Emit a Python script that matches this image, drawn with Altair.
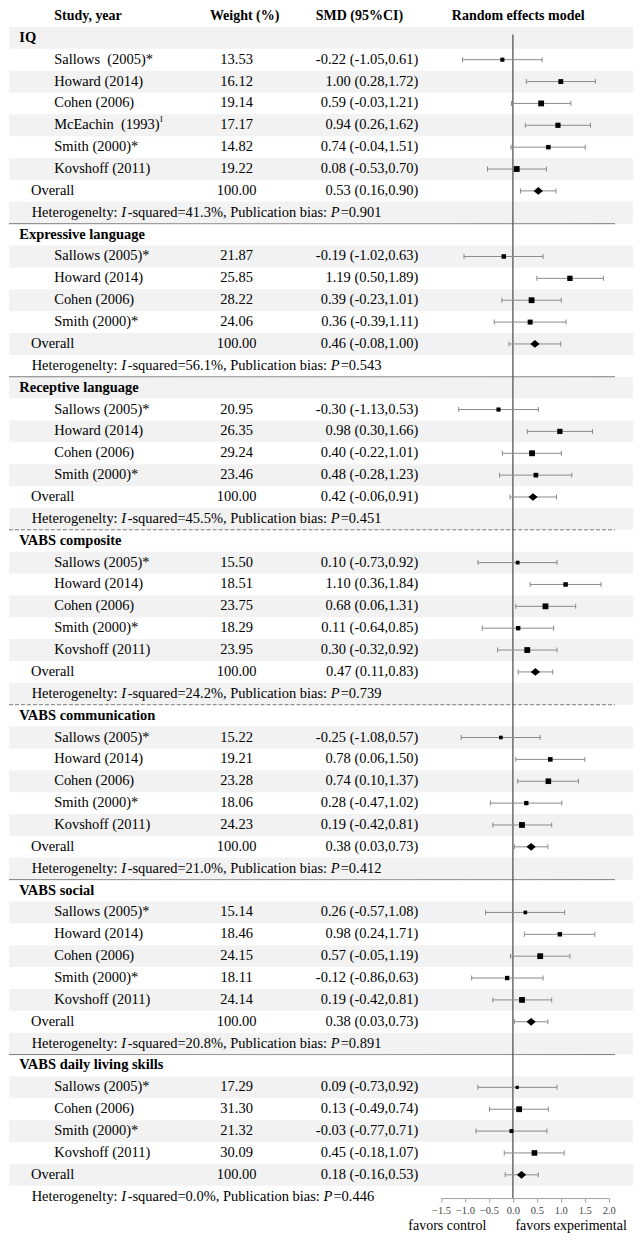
import altair as alt
import pandas as pd

FONT = "Liberation Serif"

# ---------------- data ----------------
groups = ["IQ", "Expressive language", "Receptive language", "VABS composite",
          "VABS communication", "VABS social", "VABS daily living skills"]

study_names = [
    ["Sallows\u00a0 (2005)*", "Howard (2014)", "Cohen (2006)", "McEachin\u00a0 (1993)", "Smith (2000)*", "Kovshoff (2011)"],
    ["Sallows (2005)*", "Howard (2014)", "Cohen (2006)", "Smith (2000)*"],
    ["Sallows (2005)*", "Howard (2014)", "Cohen (2006)", "Smith (2000)*"],
    ["Sallows (2005)*", "Howard (2014)", "Cohen (2006)", "Smith (2000)*", "Kovshoff (2011)"],
    ["Sallows (2005)*", "Howard (2014)", "Cohen (2006)", "Smith (2000)*", "Kovshoff (2011)"],
    ["Sallows (2005)*", "Howard (2014)", "Cohen (2006)", "Smith (2000)*", "Kovshoff (2011)"],
    ["Sallows (2005)*", "Cohen (2006)", "Smith (2000)*", "Kovshoff (2011)"],
]
weights = [
    [13.53, 16.12, 19.14, 17.17, 14.82, 19.22],
    [21.87, 25.85, 28.22, 24.06],
    [20.95, 26.35, 29.24, 23.46],
    [15.50, 18.51, 23.75, 18.29, 23.95],
    [15.22, 19.21, 23.28, 18.06, 24.23],
    [15.14, 18.46, 24.15, 18.11, 24.14],
    [17.29, 31.30, 21.32, 30.09],
]
smd = [
    [-0.22, 1.00, 0.59, 0.94, 0.74, 0.08],
    [-0.19, 1.19, 0.39, 0.36],
    [-0.30, 0.98, 0.40, 0.48],
    [0.10, 1.10, 0.68, 0.11, 0.30],
    [-0.25, 0.78, 0.74, 0.28, 0.19],
    [0.26, 0.98, 0.57, -0.12, 0.19],
    [0.09, 0.13, -0.03, 0.45],
]
ci_lo = [
    [-1.05, 0.28, -0.03, 0.26, -0.04, -0.53],
    [-1.02, 0.50, -0.23, -0.39],
    [-1.13, 0.30, -0.22, -0.28],
    [-0.73, 0.36, 0.06, -0.64, -0.32],
    [-1.08, 0.06, 0.10, -0.47, -0.42],
    [-0.57, 0.24, -0.05, -0.86, -0.42],
    [-0.73, -0.49, -0.77, -0.18],
]
ci_hi = [
    [0.61, 1.72, 1.21, 1.62, 1.51, 0.70],
    [0.63, 1.89, 1.01, 1.11],
    [0.53, 1.66, 1.01, 1.23],
    [0.92, 1.84, 1.31, 0.85, 0.92],
    [0.57, 1.50, 1.37, 1.02, 0.81],
    [1.08, 1.71, 1.19, 0.63, 0.81],
    [0.92, 0.74, 0.71, 1.07],
]
overall_smd = [0.53, 0.46, 0.42, 0.47, 0.38, 0.38, 0.18]
overall_lo = [0.16, -0.08, -0.06, 0.11, 0.03, 0.03, -0.16]
overall_hi = [0.90, 1.00, 0.91, 0.83, 0.73, 0.73, 0.53]
i_squared = [41.3, 56.1, 45.5, 24.2, 21.0, 20.8, 0.0]
pub_bias_p = [0.901, 0.543, 0.451, 0.739, 0.412, 0.891, 0.446]
dashed_after = ["Receptive language", "VABS composite"]
axis_ticks = [-1.5, -1.0, -0.5, 0.0, 0.5, 1.0, 1.5, 2.0]
headers = ["Study, year", "Weight (%)", "SMD (95%CI)", "Random effects model"]

# ---------------- layout helpers ----------------
FS = 14.5
TW = {' ': 250, '\u00a0': 250, '-': 333, '=': 564, '.': 250, '%': 833, ',': 250, ':': 278,
      '(': 333, ')': 333, '*': 500,
      'H': 722, 'P': 556, 'M': 889, 'E': 611,
      'a': 444, 'b': 500, 'c': 444, 'd': 500, 'e': 444, 'g': 500, 'h': 500, 'i': 278,
      'l': 278, 'n': 500, 'o': 500, 'q': 500, 'r': 333, 's': 389, 't': 278, 'u': 500, 'y': 500}
for _d in "0123456789":
    TW[_d] = 500


def tw(s, size=FS):
    return sum(TW.get(c, 500) for c in s) * size / 1000.0


X_TITLE, X_STUDY, X_OVERALL, X_HET = 10.3, 45.3, 22.0, 22.7
X_WEIGHT, X_SMD = 228.0, 410.0

rows, seps, het = [], [], []
r = 0
for g in range(len(groups)):
    rows.append(dict(r=r, kind="title", label=groups[g]))
    r += 1
    wmax = max(weights[g])
    for name, w, m, lo, hi in zip(study_names[g], weights[g], smd[g], ci_lo[g], ci_hi[g]):
        rows.append(dict(r=r, kind="study", label=name, wt=f"{w:.2f}",
                         ci=f"{m:.2f} ({lo:.2f},{hi:.2f})", smd=m, lo=lo, hi=hi, rel=w / wmax))
        r += 1
    rows.append(dict(r=r, kind="overall", label="Overall", wt="100.00",
                     ci=f"{overall_smd[g]:.2f} ({overall_lo[g]:.2f},{overall_hi[g]:.2f})",
                     smd=overall_smd[g], lo=overall_lo[g], hi=overall_hi[g], rel=1.0))
    r += 1
    s1 = "Heterogenelty: "
    s3 = f"-squared={i_squared[g]:.1f}%, Publication bias: "
    s5 = f"={pub_bias_p[g]:.3f}"
    x2 = X_HET + tw(s1)
    x3 = x2 + 0.333 * FS + 1.5
    x4 = x3 + tw(s3)
    x5 = x4 + 0.611 * FS + 1.0
    het += [dict(r=r, t=s1, px=X_HET, it=False), dict(r=r, t="I", px=x2, it=True),
            dict(r=r, t=s3, px=x3, it=False), dict(r=r, t="P", px=x4, it=True),
            dict(r=r, t=s5, px=x5, it=False)]
    rows.append(dict(r=r, kind="het"))
    if g < len(groups) - 1:
        seps.append(dict(y=r + 0.5, dash="dashed" if groups[g] in dashed_after else "solid"))
    r += 1

df = pd.DataFrame(rows)
last_r = r - 1
df_shade = pd.DataFrame({"y0": [i - 0.5 for i in range(0, last_r + 1, 2)],
                         "y1": [i + 0.5 for i in range(0, last_r + 1, 2)]})
df_sep = pd.DataFrame(seps)
df_het = pd.DataFrame(het)
df_title = df[df.kind == "title"]
df_study = df[df.kind == "study"]
df_over = df[df.kind == "overall"]
df_num = df[df.kind.isin(["study", "overall"])]
df_head = pd.DataFrame({"r": [-1] * 4, "t": headers,
                        "px": [X_STUDY, 236.0, 351.0, 510.0],
                        "al": ["left", "center", "center", "center"]})

H = 1189
ROWH = 21.9
YS = alt.Scale(domain=[-1, last_r], range=[5.0, 5.0 + (last_r + 1) * ROWH], nice=False, zero=False)
XS = alt.Scale(domain=[axis_ticks[0], axis_ticks[-1]], range=[432.7, 600.7], nice=False, zero=False)
XAX = alt.Axis(values=axis_ticks, format=".1f", title=None, grid=False, domainColor="#a0a0a0",
               tickColor="#a0a0a0", tickSize=4, labelFont=FONT, labelFontSize=10.5,
               labelColor="#444444", labelPadding=3, labelOverlap=False, labelFlush=False)


def yenc(f="r"):
    return alt.Y(f"{f}:Q", scale=YS, axis=None)


shade = alt.Chart(df_shade).mark_rect(color="#f2f2f2").encode(
    x=alt.value(0), x2=alt.value(625), y=yenc("y0"), y2="y1:Q")

sep = alt.Chart(df_sep).mark_rule(color="#7a7a7a", strokeWidth=1).encode(
    x=alt.value(0), x2=alt.value(607), y=yenc("y"),
    strokeDash=alt.StrokeDash("dash:N", scale=alt.Scale(domain=["solid", "dashed"], range=[[1, 0], [4, 2]]),
                              legend=None))

zero = alt.Chart(pd.DataFrame({"x": [0.0], "y": [-0.15]})).mark_rule(color="#555555", strokeWidth=1.3).encode(
    x=alt.X("x:Q", scale=XS, axis=XAX), y=yenc("y"), y2=alt.value(H))

err = alt.Chart(df_num).mark_rule(color="#8a8a8a", strokeWidth=1).encode(
    x=alt.X("lo:Q", scale=XS, axis=XAX), x2="hi:Q", y=yenc())
cap_lo = alt.Chart(df_num).mark_tick(orient="vertical", size=5, thickness=1, color="#8a8a8a", opacity=1).encode(
    x=alt.X("lo:Q", scale=XS, axis=XAX), y=yenc())
cap_hi = alt.Chart(df_num).mark_tick(orient="vertical", size=5, thickness=1, color="#8a8a8a", opacity=1).encode(
    x=alt.X("hi:Q", scale=XS, axis=XAX), y=yenc())

squares = alt.Chart(df_study).mark_point(shape="square", filled=True, color="black", opacity=1,
                                         strokeWidth=0).encode(
    x=alt.X("smd:Q", scale=XS, axis=XAX), y=yenc(),
    size=alt.Size("rel:Q", scale=alt.Scale(type="pow", exponent=2, domain=[0, 1], range=[0, 34]), legend=None))

diamonds = alt.Chart(df_over).mark_point(shape="M-1.2,0L0,-1L1.2,0L0,1Z", filled=True, color="black",
                                         opacity=1, strokeWidth=0, size=60).encode(
    x=alt.X("smd:Q", scale=XS, axis=XAX), y=yenc())


def text_layer(data, field, x, align="left", bold=False, size=FS, italic=False, pixel_field=False):
    mk = dict(align=align, baseline="middle", font=FONT, fontSize=size, color="black",
              fontWeight="bold" if bold else "normal", fontStyle="italic" if italic else "normal")
    xe = alt.X(f"{x}:Q", scale=None) if pixel_field else alt.value(x)
    return alt.Chart(data).mark_text(**mk).encode(x=xe, y=yenc(), text=f"{field}:N")


t_head_l = text_layer(df_head[df_head.al == "left"], "t", "px", bold=True, size=14, pixel_field=True)
t_head_c = text_layer(df_head[df_head.al == "center"], "t", "px", align="center", bold=True, size=14,
                      pixel_field=True)
t_title = text_layer(df_title, "label", X_TITLE, bold=True)
t_study = text_layer(df_study, "label", X_STUDY)
t_over = text_layer(df_over, "label", X_OVERALL)
t_wt = text_layer(df_num, "wt", X_WEIGHT, align="center")
t_ci = text_layer(df_num, "ci", X_SMD, align="right")
t_het_n = text_layer(df_het[~df_het.it], "t", "px", pixel_field=True)
t_het_i = text_layer(df_het[df_het.it], "t", "px", italic=True, pixel_field=True)

mc = df_study[df_study.label.str.startswith("McEachin")].copy()
mc["sup"] = "I"
mc["px"] = X_STUDY + tw(mc["label"].iloc[0]) + 0.5
t_sup = alt.Chart(mc).mark_text(align="left", baseline="middle", font=FONT, fontSize=8, dy=-5,
                                color="black").encode(x=alt.X("px:Q", scale=None), y=yenc(), text="sup:N")

df_fav = pd.DataFrame({"t": ["favors control", "favors experimental"], "px": [439.0, 563.0]})
t_fav = alt.Chart(df_fav).mark_text(align="center", baseline="middle", font=FONT, fontSize=14,
                                    color="black").encode(
    x=alt.X("px:Q", scale=None), y=alt.value(1217), text="t:N")

chart = alt.layer(shade, sep, zero, err, cap_lo, cap_hi, squares, diamonds,
                  t_head_l, t_head_c, t_title, t_study, t_over, t_wt, t_ci, t_het_n, t_het_i, t_sup, t_fav
                  ).properties(width=625, height=H, padding=0).configure_view(stroke=None)

chart.save("out.html", embed_options={"renderer": "svg", "actions": False})
